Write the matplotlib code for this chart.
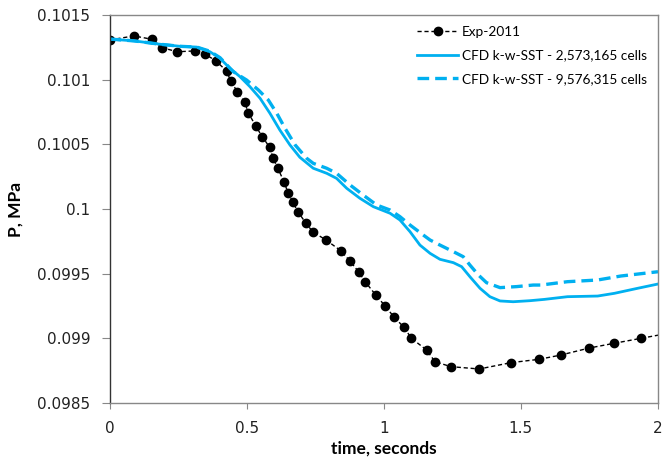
import matplotlib
matplotlib.use("Agg")
import matplotlib.pyplot as plt

exp_t = [0.0, 0.089, 0.156, 0.192, 0.247, 0.310, 0.348, 0.387, 0.427, 0.442, 0.466, 0.493,
         0.506, 0.533, 0.557, 0.584, 0.597, 0.614, 0.636, 0.651, 0.669, 0.687, 0.715, 0.741,
         0.791, 0.843, 0.876, 0.908, 0.932, 0.971, 1.005, 1.038, 1.074, 1.101, 1.156, 1.187,
         1.245, 1.348, 1.464, 1.567, 1.646, 1.749, 1.841, 1.938, 2.04]
exp_p = [0.101307, 0.101338, 0.101312, 0.101247, 0.101216, 0.101222, 0.101198, 0.101147,
         0.101067, 0.100990, 0.100907, 0.100825, 0.100745, 0.100642, 0.100559, 0.100477,
         0.100392, 0.100315, 0.100211, 0.100126, 0.100052, 0.099979, 0.099894, 0.099824,
         0.099758, 0.099678, 0.099600, 0.099515, 0.099438, 0.099335, 0.099250, 0.099163,
         0.099085, 0.099000, 0.098910, 0.098819, 0.098781, 0.098763, 0.098812, 0.098838,
         0.098871, 0.098925, 0.098962, 0.099000, 0.099040]

cfd1_t = [0.0, 0.089, 0.18, 0.257, 0.318, 0.366, 0.403, 0.439, 0.476, 0.512, 0.549, 0.585,
          0.621, 0.658, 0.694, 0.743, 0.792, 0.828, 0.865, 0.913, 0.962, 1.023, 1.059, 1.096,
          1.132, 1.169, 1.205, 1.254, 1.284, 1.314, 1.351, 1.387, 1.424, 1.472, 1.533, 1.585,
          1.670, 1.780, 1.841, 1.926, 2.0]
cfd1_p = [0.101314, 0.101300, 0.101275, 0.101258, 0.101252, 0.101216, 0.101165, 0.101088,
          0.101023, 0.100946, 0.100856, 0.100740, 0.100611, 0.100495, 0.100400, 0.100315,
          0.100276, 0.100237, 0.100160, 0.100083, 0.100018, 0.099967, 0.099915, 0.099824,
          0.099721, 0.099657, 0.099611, 0.099585, 0.099554, 0.099477, 0.099387, 0.099322,
          0.099289, 0.099283, 0.099291, 0.099301, 0.099322, 0.099327, 0.099348, 0.099387,
          0.099420]

cfd2_t = [0.0, 0.089, 0.18, 0.257, 0.318, 0.366, 0.403, 0.451, 0.500, 0.543, 0.579, 0.610,
          0.640, 0.677, 0.719, 0.743, 0.792, 0.828, 0.877, 0.925, 0.974, 1.023, 1.059, 1.096,
          1.144, 1.169, 1.205, 1.254, 1.290, 1.314, 1.345, 1.375, 1.424, 1.485, 1.545, 1.573,
          1.670, 1.780, 1.865, 2.0]
cfd2_p = [0.101314, 0.101300, 0.101275, 0.101258, 0.101252, 0.101220, 0.101170, 0.101062,
          0.100997, 0.100920, 0.100843, 0.100740, 0.100624, 0.100495, 0.100392, 0.100353,
          0.100315, 0.100276, 0.100186, 0.100108, 0.100031, 0.099992, 0.099941, 0.099876,
          0.099799, 0.099760, 0.099721, 0.099670, 0.099631, 0.099567, 0.099490, 0.099430,
          0.099392, 0.099400, 0.099412, 0.099412, 0.099438, 0.099451, 0.099482, 0.099515]

x_ticks = [0, 0.5, 1, 1.5, 2]
x_labels = ["0", "0.5", "1", "1.5", "2"]
y_ticks = [0.0985, 0.099, 0.0995, 0.1, 0.1005, 0.101, 0.1015]
y_labels = ["0.0985", "0.099", "0.0995", "0.1", "0.1005", "0.101", "0.1015"]

blue = "#00B0F0"

fig = plt.figure(figsize=(6.63, 4.58), dpi=100)
ax = fig.add_axes([109.5 / 663, 1 - 403 / 458, (658 - 109.5) / 663, (403 - 15) / 458])

ax.plot(exp_t, exp_p, color="black", lw=1.0, ls=(0, (3, 2)), marker="o", ms=6,
        markerfacecolor="black", markeredgecolor="black", label="Exp-2011")
ax.plot(cfd1_t, cfd1_p, color=blue, lw=2.0, solid_joinstyle="round",
        label="CFD k-w-SST - 2,573,165 cells")
ax.plot(cfd2_t, cfd2_p, color=blue, lw=2.4, ls=(0, (3.5, 1.8)), dash_joinstyle="round",
        label="CFD k-w-SST - 9,576,315 cells")

ax.set_xlim(0, 2)
ax.set_ylim(0.0985, 0.1015)
ax.set_xticks(x_ticks)
ax.set_xticklabels(x_labels)
ax.set_yticks(y_ticks)
ax.set_yticklabels(y_labels)
ax.tick_params(axis="x", direction="out", length=4.3, color="#888888", labelsize=11,
               labelcolor="#222222", pad=9)
ax.tick_params(axis="y", direction="out", length=5.8, color="#888888", labelsize=11,
               labelcolor="#222222", pad=8)

for s in ["top", "right", "bottom"]:
    ax.spines[s].set_color("#888888")
    ax.spines[s].set_linewidth(1.0)
ax.spines["left"].set_color("#333333")
ax.spines["left"].set_linewidth(1.0)

ax.set_xlabel("time, seconds", fontsize=12.5, fontweight="bold", family="Lato", labelpad=3)
ax.set_ylabel("P, MPa", fontsize=12.5, fontweight="bold", family="Lato", labelpad=10)

leg = ax.legend(loc="upper right", frameon=False, prop={"family": "Lato", "size": 9.8},
                handlelength=3.0, handletextpad=0.3, labelspacing=0.85,
                bbox_to_anchor=(1.0, 1.0), borderaxespad=0.4)

fig.savefig("out.png", dpi=100)
